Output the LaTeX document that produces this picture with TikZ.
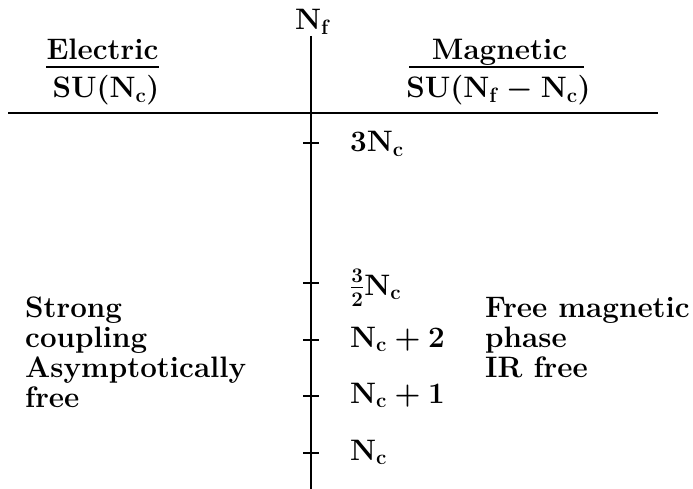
\RequirePackage{fix-cm}
\documentclass[tikz,border=0pt]{standalone}
\usepackage{amsmath}
\begin{document}
\begin{tikzpicture}[x=1pt,y=-1pt,
  every node/.style={inner sep=0pt, font=\fontsize{29.6}{31}\selectfont\bfseries\boldmath},
  rule/.style={line width=2.4pt},
  fracbar/.style={line width=2pt},
  tickmark/.style={line width=2pt},
  lbl/.style={anchor=base west}]
\useasboundingbox (0,0) rectangle (693,489);
% axis
\node[anchor=base] (nf) at (313,30) {$\mathbf{N_f}$};
\coordinate (vtop) at (311,36);
\coordinate (vbot) at (311,489);
\draw[rule] (vtop) -- (vbot);
\coordinate (hl) at (8,113);
\coordinate (hr) at (658,113);
\draw[rule] (hl) -- (hr);
% headers
\node[anchor=base] (el) at (102.5,60) {Electric};
\node[anchor=base] (su1) at (106,98) {$\mathbf{SU(N_c)}$};
\coordinate (b1l) at (46,67);
\coordinate (b1r) at (159,67);
\draw[fracbar] (b1l) -- (b1r);
\node[anchor=base] (mag) at (499.5,60) {Magnetic};
\node[anchor=base] (su2) at (498.5,98) {$\mathbf{SU(N_f-N_c)}$};
\coordinate (b2l) at (409,67);
\coordinate (b2r) at (584,67);
\draw[fracbar] (b2l) -- (b2r);
% ticks
\foreach \n/\y in {t1/143,t2/283,t3/340,t4/396,t5/453}{
  \coordinate (\n l) at (303,\y);
  \coordinate (\n r) at (319,\y);
  \draw[tickmark] (\n l) -- (\n r);
}
\node[lbl] (k1) at (350,152) {$\mathbf{3N_c}$};
\node[lbl] (k2) at (350,295) {$\tfrac{3}{2}\mathbf{N_c}$};
\node[lbl] (k3) at (350,347) {$\mathbf{N_c+2}$};
\node[lbl] (k4) at (350,403) {$\mathbf{N_c+1}$};
\node[lbl] (k5) at (350,460) {$\mathbf{N_c}$};
% side texts
\node[lbl] (l1) at (25,317) {Strong};
\node[lbl] (l2) at (25,347) {coupling};
\node[lbl] (l3) at (25,377) {Asymptotically};
\node[lbl] (l4) at (25,407) {free};
\node[lbl] (r1) at (485,317) {Free magnetic};
\node[lbl] (r2) at (485,347) {phase};
\node[lbl] (r3) at (485,377) {IR free};
\end{tikzpicture}
\end{document}
